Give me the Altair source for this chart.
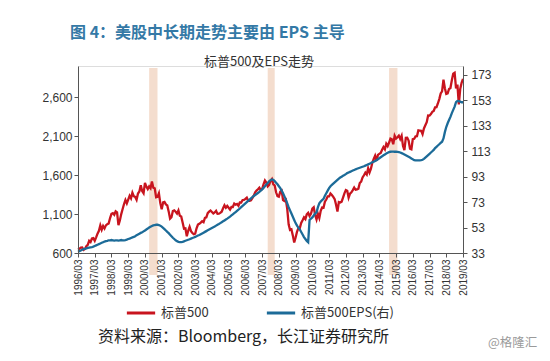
import altair as alt
import pandas as pd

# S&P 500 monthly values, 1996/03 .. 2019/03
spx_1996 = [645, 654, 669, 671, 640, 652, 687, 705, 757, 741]
spx_1997 = [786, 791, 757, 801, 848, 885, 954, 899, 947, 915, 955, 970]
spx_1998 = [980, 1049, 1102, 1112, 1091, 1134, 1121, 957, 1017, 1099, 1164, 1229]
spx_1999 = [1280, 1238, 1286, 1335, 1302, 1373, 1329, 1320, 1283, 1363, 1389, 1469]
spx_2000 = [1394, 1366, 1499, 1452, 1421, 1455, 1431, 1518, 1437, 1429, 1315, 1320]
spx_2001 = [1366, 1240, 1160, 1249, 1256, 1224, 1211, 1134, 1041, 1060, 1139, 1148]
spx_2002 = [1130, 1107, 1147, 1077, 1067, 990, 912, 916, 815, 886, 936, 880]
spx_2003 = [856, 841, 848, 917, 964, 975, 990, 1008, 996, 1051, 1058, 1112]
spx_2004 = [1131, 1145, 1126, 1107, 1121, 1141, 1102, 1104, 1115, 1130, 1174, 1212]
spx_2005 = [1181, 1204, 1181, 1157, 1192, 1191, 1234, 1220, 1229, 1207, 1249, 1248]
spx_2006 = [1280, 1281, 1295, 1311, 1270, 1270, 1277, 1304, 1336, 1378, 1401, 1418]
spx_2007 = [1438, 1407, 1421, 1482, 1531, 1503, 1455, 1474, 1527, 1549, 1481, 1468]
spx_2008 = [1379, 1331, 1323, 1386, 1400, 1280, 1267, 1283, 1166, 969, 896, 903]
spx_2009 = [826, 735, 798, 873, 919, 919, 987, 1021, 1057, 1036, 1096, 1115]
spx_2010 = [1074, 1104, 1169, 1187, 1089, 1031, 1102, 1049, 1141, 1183, 1181, 1258]
spx_2011 = [1286, 1327, 1326, 1364, 1345, 1321, 1292, 1219, 1131, 1253, 1247, 1258]
spx_2012 = [1312, 1366, 1408, 1398, 1310, 1362, 1379, 1407, 1441, 1412, 1416, 1426]
spx_2013 = [1498, 1515, 1569, 1598, 1631, 1606, 1686, 1633, 1682, 1757, 1806, 1848]
spx_2014 = [1783, 1859, 1872, 1884, 1924, 1960, 1931, 2003, 1972, 2018, 2068, 2059]
spx_2015 = [1995, 2105, 2068, 2086, 2107, 2063, 2104, 1972, 1920, 2079, 2080, 2044]
spx_2016 = [1940, 1932, 2060, 2065, 2097, 2099, 2174, 2171, 2168, 2126, 2199, 2239]
spx_2017 = [2279, 2364, 2363, 2384, 2412, 2423, 2470, 2472, 2519, 2575, 2648, 2674]
spx_2018 = [2824, 2714, 2641, 2648, 2705, 2718, 2816, 2902, 2914, 2712, 2760, 2507]
spx_2019 = [2704, 2784, 2834]

# S&P 500 EPS monthly values (right axis), 1996/03 .. 2019/03
eps_1996 = [34, 34.5, 35, 35.5, 36, 36.3, 36.6, 37, 37.3, 37.5]
eps_1997 = [37.7, 38, 38.5, 39, 39.5, 40, 40.5, 41, 41.5, 42, 42.3, 42.6]
eps_1998 = [43, 43, 43.2, 43, 42.8, 43, 43, 42.8, 43, 43.2, 43, 43]
eps_1999 = [43.2, 43.5, 44, 44.3, 44.8, 45.3, 45.6, 46.2, 47, 47.6, 48.2, 48.8]
eps_2000 = [49.3, 50, 50.7, 51.5, 52.2, 53, 53.6, 54.2, 54.7, 55, 55.2, 55.2]
eps_2001 = [55, 54.5, 53.7, 52.8, 51.8, 50.7, 49.6, 48.6, 47.4, 46.2, 45, 44]
eps_2002 = [43, 42.3, 41.8, 41.6, 41.6, 41.8, 42.2, 42.6, 43, 43.4, 43.8, 44.3]
eps_2003 = [44.8, 45.2, 45.7, 46.2, 46.7, 47.2, 47.8, 48.4, 49, 49.6, 50.2, 50.8]
eps_2004 = [51.4, 52, 52.6, 53.2, 53.8, 54.5, 55.2, 55.8, 56.5, 57.2, 57.9, 58.6]
eps_2005 = [59.3, 60, 60.8, 61.6, 62.5, 63.4, 64.3, 65.2, 66.1, 67, 68, 69]
eps_2006 = [70, 71, 72, 73, 74, 75, 76, 77, 77.8, 78.6, 79.4, 80.2]
eps_2007 = [81, 82, 83, 84.2, 85.5, 86.8, 88, 89.3, 90.3, 90.8, 90.5, 89.5]
eps_2008 = [88.3, 87, 85.5, 84, 82, 80, 77.5, 75, 72, 69, 66.5, 64]
eps_2009 = [61.5, 59, 56.5, 54.5, 53, 51.5, 49.5, 47.5, 45.5, 44, 42.5, 41.5]
eps_2010 = [59, 60, 61, 62.5, 64, 65, 69, 72, 73.5, 74.5, 75.5, 78]
eps_2011 = [80, 82, 84, 85.5, 86.5, 87.5, 88.5, 89.5, 90.5, 91.5, 92.3, 93]
eps_2012 = [93.7, 94.3, 95, 95.8, 96.3, 96.8, 97.3, 97.8, 98.3, 98.8, 99.2, 99.6]
eps_2013 = [100, 100.4, 100.8, 101.2, 101.7, 102.2, 102.7, 103.2, 103.7, 104.3, 104.8, 105.4]
eps_2014 = [106, 106.7, 107.5, 108.3, 109, 109.8, 110.5, 111.2, 111.8, 112.3, 112.6, 112.7]
eps_2015 = [112.7, 112.6, 112.6, 112.5, 112.3, 112, 111.5, 111, 110.4, 109.8, 109.2, 108.6]
eps_2016 = [108, 107.3, 106.6, 106, 105.8, 105.8, 105.8, 105.8, 106, 106.3, 107, 108]
eps_2017 = [109, 110, 111, 112, 113, 114, 115.5, 116.5, 117.5, 118.5, 119.5, 120.5]
eps_2018 = [123, 128, 132, 135, 137.5, 140, 143, 145.5, 148, 151.5, 152.5, 152.3]
eps_2019 = [152, 151.5, 151.5]

# shaded periods (month index from 1996/03)
band_start = [51, 136, 223]
band_end = [57, 141, 229]

series_names = ["标普500", "标普500EPS(右)"]
series_colors = ["#C8141E", "#1C6B98"]

left_ticks = [600, 1100, 1600, 2100, 2600]
right_ticks = [33, 53, 73, 93, 113, 133, 153, 173]

spx = (spx_1996 + spx_1997 + spx_1998 + spx_1999 + spx_2000 + spx_2001 + spx_2002 +
       spx_2003 + spx_2004 + spx_2005 + spx_2006 + spx_2007 + spx_2008 + spx_2009 +
       spx_2010 + spx_2011 + spx_2012 + spx_2013 + spx_2014 + spx_2015 + spx_2016 +
       spx_2017 + spx_2018 + spx_2019)
eps = (eps_1996 + eps_1997 + eps_1998 + eps_1999 + eps_2000 + eps_2001 + eps_2002 +
       eps_2003 + eps_2004 + eps_2005 + eps_2006 + eps_2007 + eps_2008 + eps_2009 +
       eps_2010 + eps_2011 + eps_2012 + eps_2013 + eps_2014 + eps_2015 + eps_2016 +
       eps_2017 + eps_2018 + eps_2019)

n = min(len(spx), len(eps))
df_spx = pd.DataFrame({"t": list(range(n)), "v": spx[:n], "s": series_names[0]})
df_eps = pd.DataFrame({"t": list(range(n)), "v": eps[:n], "s": series_names[1]})
df_band = pd.DataFrame({"a": band_start, "b": band_end})

W, H = 385, 187
NUM_FONT = "Liberation Sans"
CJK = "Noto Sans CJK SC"

xscale = alt.Scale(domain=[0, 276], nice=False, zero=False)
xaxis = alt.Axis(values=list(range(0, 277, 12)),
                 labelExpr="toString(1996 + floor(datum.value / 12)) + '/03'",
                 labelAngle=270, labelFontSize=10, labelFont=NUM_FONT, labelColor="#333333",
                 tickSize=4, tickColor="#555555", domainColor="#555555", grid=False,
                 title=None, zindex=1, labelPadding=2, labelOverlap=False)

color = alt.Color("s:N", scale=alt.Scale(domain=series_names, range=series_colors),
                  legend=alt.Legend(orient="none", legendX=47, legendY=231, direction="horizontal",
                                    title=None, symbolType="stroke", symbolSize=800,
                                    symbolStrokeWidth=3, labelFont=CJK, labelFontSize=13,
                                    labelColor="#333333", columnPadding=51, labelOffset=4))

bands = alt.Chart(df_band).mark_rect(color="#F3D9C9", opacity=0.9).encode(
    x=alt.X("a:Q", scale=xscale, axis=xaxis),
    x2="b:Q",
    y=alt.value(2),
    y2=alt.value(H + 22),
)

red = alt.Chart(df_spx).mark_line(strokeWidth=2.3).encode(
    x=alt.X("t:Q", scale=xscale, axis=xaxis),
    y=alt.Y("v:Q", scale=alt.Scale(domain=[600, 3000], nice=False, zero=False),
            axis=alt.Axis(values=left_ticks, format=",.0f", labelFont=NUM_FONT, labelFontSize=12,
                          labelColor="#333333", tickSize=4, tickColor="#555555",
                          domainColor="#555555", grid=False, title=None, zindex=1,
                          labelPadding=2)),
    color=color,
)

blue = alt.Chart(df_eps).mark_line(strokeWidth=2.3).encode(
    x=alt.X("t:Q", scale=xscale, axis=xaxis),
    y=alt.Y("v:Q", scale=alt.Scale(domain=[33, 180], nice=False, zero=False),
            axis=alt.Axis(orient="right", values=right_ticks, format=".0f", labelFont=NUM_FONT,
                          labelFontSize=12, labelColor="#333333", tickSize=4,
                          tickColor="#555555", domainColor="#555555", grid=False,
                          title=None, zindex=1, labelPadding=4)),
    color=color,
)

one = pd.DataFrame({"k": [0]})


def label(txt, x, y, size, col, align="left", weight="normal", font=CJK):
    return alt.Chart(one).mark_text(align=align, baseline="middle", fontSize=size,
                                    color=col, font=font, fontWeight=weight).encode(
        x=alt.value(x), y=alt.value(y), text=alt.value(txt))


title = label("图 4：美股中长期走势主要由 EPS 主导", -8, -33, 16, "#3479A6", weight="bold")
subtitle = label("标普500及EPS走势", 181, -4, 13, "#333333", align="center")
source = label("资料来源：Bloomberg，长江证券研究所", 20, 271, 16, "#222222")
mark = label("@格隆汇", 410, 277, 12.5, "#9A9A9A")

lines = alt.layer(bands, red, blue).resolve_scale(y="independent")

chart = alt.layer(lines, title, subtitle, source, mark).properties(
    width=W, height=H,
    padding={"left": 70, "top": 58, "right": 79, "bottom": 100},
    autosize=alt.AutoSizeParams(type="none"),
).configure_view(stroke=None).configure(background="white")

chart.save("out.html", embed_options={"renderer": "svg", "actions": False})
